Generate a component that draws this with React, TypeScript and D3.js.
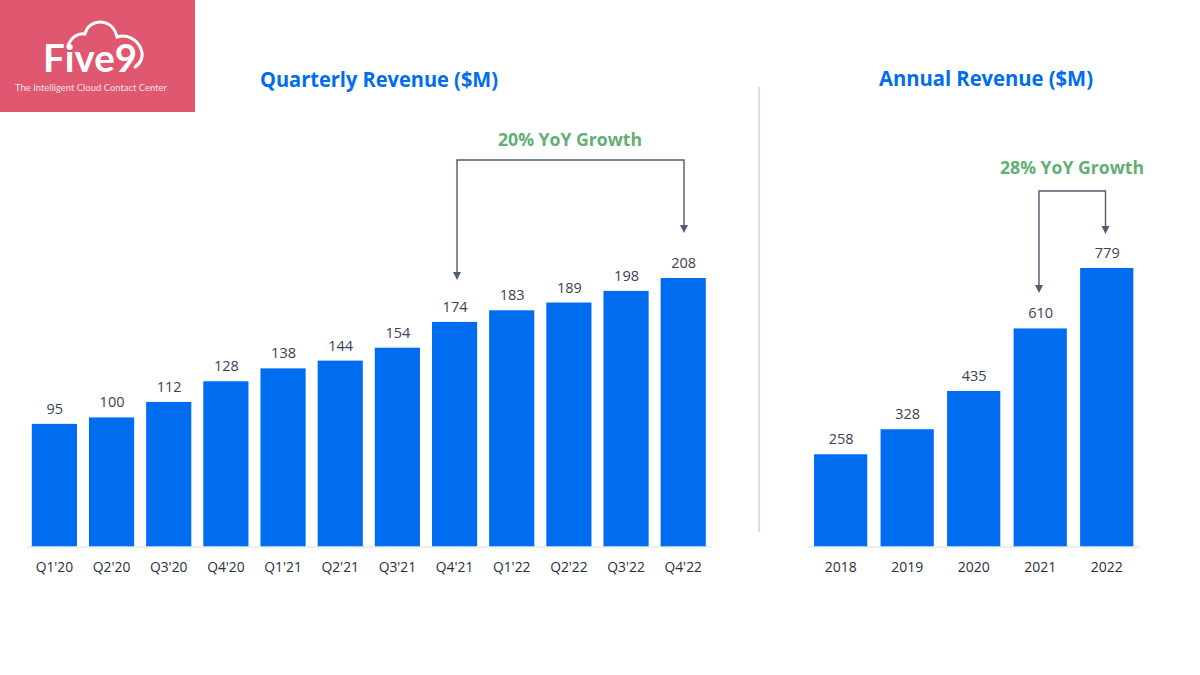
import React from "react";
import * as d3 from "d3";

const quarters = ["Q1'20","Q2'20","Q3'20","Q4'20","Q1'21","Q2'21","Q3'21","Q4'21","Q1'22","Q2'22","Q3'22","Q4'22"];
const quarterlyRevenue = [95,100,112,128,138,144,154,174,183,189,198,208];
const years = ["2018","2019","2020","2021","2022"];
const annualRevenue = [258,328,435,610,779];

const BLUE = "#006CF0";
const GREEN = "#63AE74";
const SLATE = "#4F5D70";
const INK = "#3A4256";
const FONT = "'Open Sans', 'Noto Sans', sans-serif";
const BASE = 546.5;

const xQ = d3.scaleBand<string>().domain(quarters).range([25.8, 711.8]).paddingInner(0.21).paddingOuter(0.105);
const yQ = d3.scaleLinear().domain([0, 208]).range([BASE, 278]);
const xA = d3.scaleBand<string>().domain(years).range([807.4, 1140]).paddingInner(0.2).paddingOuter(0.1);
const yA = d3.scaleLinear().domain([0, 779]).range([BASE, 268]);

function Bars({ cats, vals, x, y, labelWidth }: any) {
  return cats.map((c: string, i: number) => {
    const cx = x(c) + x.bandwidth() / 2;
    return (
      <g key={c}>
        <rect x={x(c)} y={y(vals[i])} width={x.bandwidth()} height={BASE - y(vals[i])} fill={BLUE} />
        <text x={cx + 0.5} y={y(vals[i]) - 10} textAnchor="middle" fontSize={14.5} fill={INK}>{vals[i]}</text>
        <text x={cx} y={571.5} textAnchor="middle" fontSize={14.5} fill="#2B3040" textLength={labelWidth} lengthAdjust="spacingAndGlyphs">{c}</text>
      </g>
    );
  });
}

function Bracket({ x1, x2, top, end1, end2 }: any) {
  const path = d3.path();
  path.moveTo(x1, end1 - 7);
  path.lineTo(x1, top);
  path.lineTo(x2, top);
  path.lineTo(x2, end2 - 7);
  const head = (x: number, e: number) => `${x - 4},${e - 8} ${x + 4},${e - 8} ${x},${e}`;
  return (
    <g>
      <path d={path.toString()} fill="none" stroke={SLATE} strokeWidth={1.4} />
      <polygon points={head(x1, end1)} fill={SLATE} />
      <polygon points={head(x2, end2)} fill={SLATE} />
    </g>
  );
}

export default function App() {
  return (
    <svg width={1200} height={675} viewBox="0 0 1200 675" style={{ position: "absolute", left: 0, top: 0, background: "#fff" }} fontFamily={FONT}>
      <rect x={0} y={0} width={195} height={112} fill="#DF5870" />
      <path d="M68,46 C71,37 78,33 85,34 C87,26 94,21.5 101,22 C109,22.5 115,28 117,37 C127,34 137,39 141,49 C144,56 141,63 135,67"
        fill="none" stroke="#fff" strokeWidth={3} strokeLinecap="round" />
      <text x={43} y={72} fontFamily="Lato, sans-serif" fontSize={38} fontWeight={700} fill="#fff" textLength={94} lengthAdjust="spacingAndGlyphs">Five9</text>
      <text x={15} y={91} fontFamily="Lato, sans-serif" fontSize={9.5} fill="#fff" fillOpacity={0.85} textLength={152} lengthAdjust="spacingAndGlyphs">The Intelligent Cloud Contact Center</text>

      <text x={379} y={87} textAnchor="middle" fontSize={20.5} fontWeight={700} fill={BLUE} textLength={238} lengthAdjust="spacingAndGlyphs">Quarterly Revenue ($M)</text>
      <text x={986} y={86} textAnchor="middle" fontSize={20.5} fontWeight={700} fill={BLUE} textLength={214} lengthAdjust="spacingAndGlyphs">Annual Revenue ($M)</text>

      <line x1={759} x2={759} y1={87} y2={532} stroke="#C6D6E4" strokeWidth={1.5} />

      <text x={570} y={146} textAnchor="middle" fontSize={18} fontWeight={700} fill={GREEN} textLength={144} lengthAdjust="spacingAndGlyphs">20% YoY Growth</text>
      <text x={1072} y={174} textAnchor="middle" fontSize={18} fontWeight={700} fill={GREEN} textLength={144} lengthAdjust="spacingAndGlyphs">28% YoY Growth</text>

      <Bracket x1={457} x2={684} top={160} end1={280} end2={233} />
      <Bracket x1={1039} x2={1105.5} top={191} end1={293} end2={234} />

      <Bars cats={quarters} vals={quarterlyRevenue} x={xQ} y={yQ} labelWidth={37.5} />
      <Bars cats={years} vals={annualRevenue} x={xA} y={yA} labelWidth={32} />

      <line x1={27} x2={712} y1={547} y2={547} stroke="#DADDE0" strokeWidth={1.2} />
      <line x1={807} x2={1140} y1={547} y2={547} stroke="#DADDE0" strokeWidth={1.2} />
    </svg>
  );
}
